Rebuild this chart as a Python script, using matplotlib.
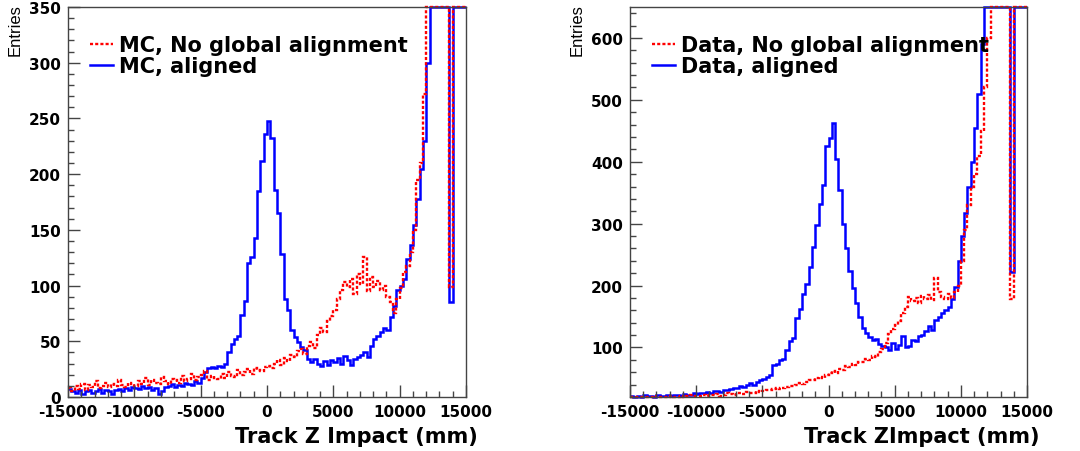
import numpy as np
import matplotlib
matplotlib.use("Agg")
import matplotlib.pyplot as plt
from matplotlib.ticker import MultipleLocator
from matplotlib.lines import Line2D

plt.rcParams["axes.unicode_minus"] = False

# 250 mm bins from -15000 to 15000 mm (120 bins), 20 values per row = 5000 mm
edges = np.arange(-15000, 15001, 250)

mc_aligned = [
    7, 5, 4, 6, 3, 5, 6, 4, 5, 7, 4, 6, 5, 3, 6, 7, 5, 8, 6, 9,
    8, 7, 10, 8, 9, 6, 8, 3, 5, 9, 10, 12, 9, 11, 10, 13, 12, 11, 14, 13,
    17, 22, 26, 27, 26, 28, 27, 30, 40, 48, 52, 55, 74, 86, 120, 126, 143, 185, 212, 236,
    248, 232, 186, 165, 128, 88, 78, 60, 54, 49, 45, 42, 34, 31, 34, 30, 28, 32, 29, 33,
    31, 35, 30, 37, 33, 29, 34, 36, 38, 40, 36, 46, 52, 55, 58, 62, 60, 72, 82, 96,
    100, 106, 124, 136, 154, 178, 205, 230, 300, 420, 520, 620, 700, 780, 800, 85, 800, 800, 800, 800,
]
mc_noalign = [
    8, 5, 10, 7, 12, 6, 11, 9, 14, 8, 10, 13, 9, 12, 10, 15, 11, 9, 13, 12,
    10, 14, 12, 17, 11, 15, 13, 12, 18, 14, 12, 16, 15, 13, 19, 14, 16, 21, 15, 18,
    20, 23, 15, 19, 17, 16, 21, 17, 22, 19, 18, 24, 20, 22, 25, 21, 26, 24, 23, 27,
    28, 26, 30, 33, 29, 35, 32, 38, 36, 41, 43, 39, 46, 49, 44, 56, 62, 58, 68, 73,
    78, 88, 96, 103, 99, 106, 92, 110, 101, 126, 95, 108, 99, 104, 96, 100, 90, 85, 75, 88,
    98, 112, 118, 130, 150, 195, 210, 272, 380, 450, 550, 650, 750, 800, 850, 99, 900, 900, 900, 900,
]
data_aligned = [
    21, 19, 22, 20, 23, 21, 22, 20, 24, 22, 21, 23, 22, 24, 23, 22, 25, 23, 24, 26,
    25, 27, 26, 28, 27, 30, 29, 28, 32, 31, 33, 35, 34, 37, 36, 40, 42, 39, 45, 47,
    49, 52, 55, 71, 74, 79, 82, 96, 110, 115, 148, 162, 186, 203, 230, 262, 298, 332, 362, 425,
    438, 462, 405, 355, 300, 260, 224, 196, 172, 150, 132, 123, 117, 112, 114, 106, 103, 100, 96, 108,
    97, 104, 118, 100, 103, 112, 110, 118, 120, 126, 134, 128, 145, 150, 156, 160, 166, 178, 198, 240,
    280, 318, 360, 400, 455, 510, 590, 700, 780, 850, 900, 950, 1000, 1000, 1000, 222, 1000, 1000, 1000, 1000,
]
data_noalign = [
    17, 19, 18, 20, 16, 19, 18, 21, 17, 20, 19, 18, 21, 20, 19, 22, 20, 21, 23, 21,
    22, 21, 23, 22, 24, 23, 25, 22, 24, 26, 25, 23, 27, 26, 25, 28, 27, 26, 29, 28,
    30, 32, 31, 33, 34, 33, 35, 36, 38, 37, 40, 42, 41, 45, 48, 47, 50, 52, 51, 55,
    58, 62, 59, 65, 63, 70, 68, 73, 71, 77, 76, 82, 80, 87, 85, 92, 97, 108, 122, 130,
    136, 142, 156, 165, 182, 175, 180, 172, 183, 178, 185, 176, 212, 190, 182, 178, 186, 180, 190, 200,
    240, 290, 330, 360, 380, 410, 450, 520, 600, 700, 800, 900, 1000, 1000, 1000, 178, 1000, 1000, 1000, 1000,
]

panels = [
    # aligned, not aligned, y range, y major/minor, legend labels, x title
    (mc_aligned, mc_noalign, (0, 350), (50, 10),
     ("MC, No global alignment", "MC, aligned"), "Track Z Impact (mm)"),
    (data_aligned, data_noalign, (20, 650), (100, 20),
     ("Data, No global alignment", "Data, aligned"), "Track ZImpact (mm)"),
]

W, H = 1080, 452
fig = plt.figure(figsize=(W / 100, H / 100), dpi=100)
boxes = [(68, 54, 398, 390), (630, 54, 397, 390)]

red_style = dict(color="#ff0000", lw=1.7, ls=(0, (1.3, 0.9)))
blue_style = dict(color="#0000ff", lw=1.8, ls="-")
frame_col = "#444444"

for (x0, y0, w, h), (blue, red, ylim, ystep, labels, xtitle) in zip(boxes, panels):
    ax = fig.add_axes([x0 / W, y0 / H, w / W, h / H])
    ymin, ymax = ylim
    # ROOT draws out-of-range bins along the frame edge
    ax.stairs(np.clip(blue, ymin, ymax), edges, baseline=None, clip_on=False, **blue_style)
    ax.stairs(np.clip(red, ymin, ymax), edges, baseline=None, clip_on=False, **red_style)
    ax.set_xlim(-15000, 15000)
    ax.set_ylim(ymin, ymax)

    ax.xaxis.set_minor_locator(MultipleLocator(1000))
    ax.yaxis.set_minor_locator(MultipleLocator(ystep[1]))
    ax.set_xticks(np.arange(-15000, 15001, 5000))
    ax.set_xticklabels([str(v) for v in range(-15000, 15001, 5000)])
    yt = [v for v in range(0, ymax + 1, ystep[0]) if v >= ymin]
    ax.set_yticks(yt)
    ax.set_yticklabels([str(v) for v in yt])

    ax.tick_params(which="both", direction="in", top=False, right=False,
                   color=frame_col, width=1)
    ax.tick_params(which="major", length=8.5, labelsize=11, pad=5)
    ax.tick_params(which="minor", length=4)
    for lab in ax.get_xticklabels() + ax.get_yticklabels():
        lab.set_fontweight("bold")
        lab.set_family("DejaVu Sans")
    for sp in ax.spines.values():
        sp.set_color(frame_col)
        sp.set_linewidth(1)

    handles = [Line2D([], [], **red_style), Line2D([], [], **blue_style)]
    ax.legend(handles, labels, loc="upper left", bbox_to_anchor=(12 / w, 1 - 18 / h),
              frameon=False, borderpad=0, handlelength=1.1, handletextpad=0.25,
              labelspacing=0.05, prop=dict(family="DejaVu Sans", weight="bold", size=15))

    fig.text((x0 + w + 12) / W, 1 - 437 / H, xtitle, ha="right", va="center",
             fontsize=15, fontweight="bold", family="DejaVu Sans")
    fig.text((x0 - 53) / W, 1 - 30 / H, "Entries", rotation=90, ha="center", va="center",
             fontsize=12, family="Liberation Sans")

fig.savefig("out.png", dpi=100)
